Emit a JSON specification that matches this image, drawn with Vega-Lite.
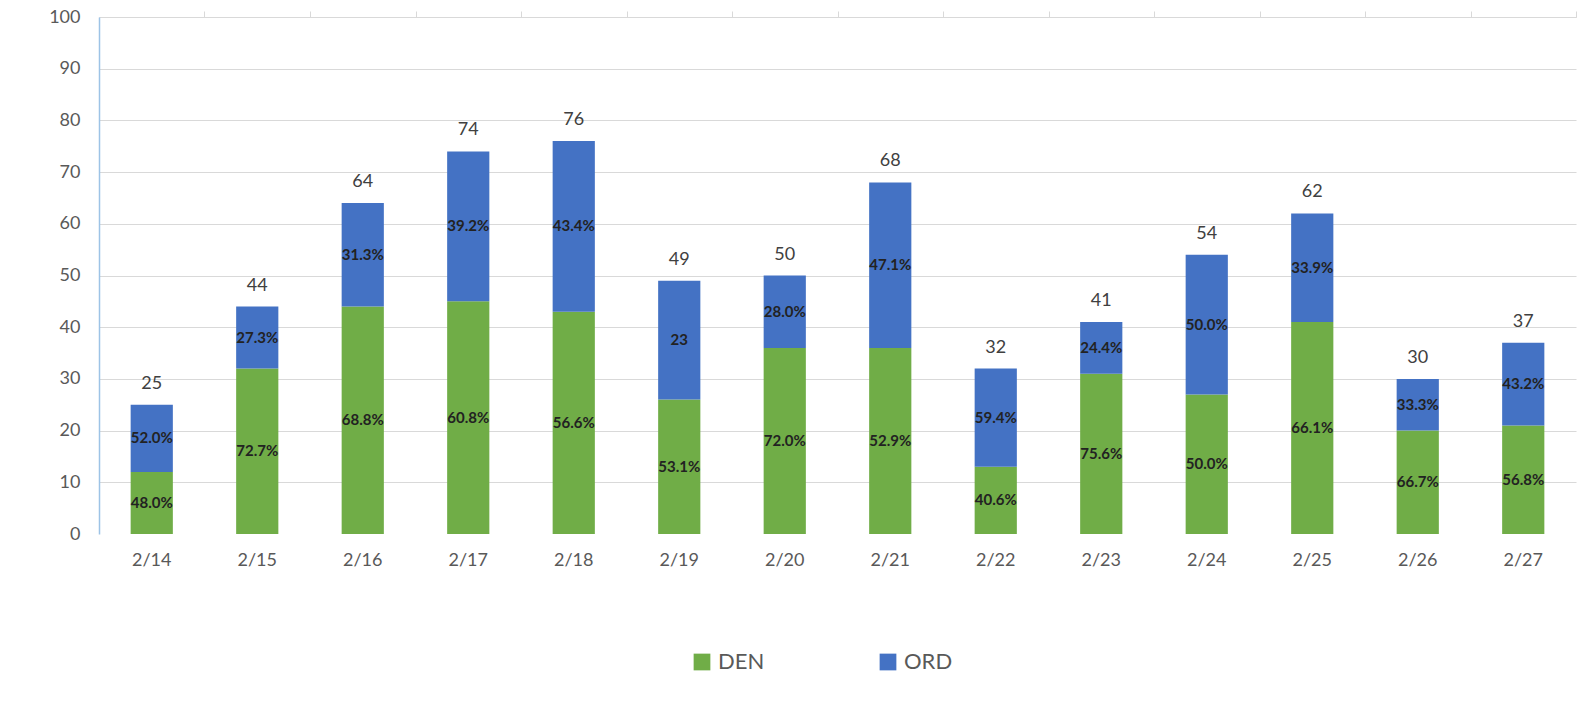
{
  "$schema": "https://vega.github.io/schema/vega-lite/v6.json",
  "width": 1477,
  "height": 517,
  "autosize": {"type": "none"},
  "padding": {"left": 99, "top": 17, "right": 3, "bottom": 187},
  "background": "white",
  "config": {"font": "Lato", "view": {"stroke": null}},
  "data": {
    "values": [
      {"date": "2/14", "carrier": "DEN", "count": 12, "label": "48.0%"},
      {"date": "2/14", "carrier": "ORD", "count": 13, "label": "52.0%"},
      {"date": "2/15", "carrier": "DEN", "count": 32, "label": "72.7%"},
      {"date": "2/15", "carrier": "ORD", "count": 12, "label": "27.3%"},
      {"date": "2/16", "carrier": "DEN", "count": 44, "label": "68.8%"},
      {"date": "2/16", "carrier": "ORD", "count": 20, "label": "31.3%"},
      {"date": "2/17", "carrier": "DEN", "count": 45, "label": "60.8%"},
      {"date": "2/17", "carrier": "ORD", "count": 29, "label": "39.2%"},
      {"date": "2/18", "carrier": "DEN", "count": 43, "label": "56.6%"},
      {"date": "2/18", "carrier": "ORD", "count": 33, "label": "43.4%"},
      {"date": "2/19", "carrier": "DEN", "count": 26, "label": "53.1%"},
      {"date": "2/19", "carrier": "ORD", "count": 23, "label": "23"},
      {"date": "2/20", "carrier": "DEN", "count": 36, "label": "72.0%"},
      {"date": "2/20", "carrier": "ORD", "count": 14, "label": "28.0%"},
      {"date": "2/21", "carrier": "DEN", "count": 36, "label": "52.9%"},
      {"date": "2/21", "carrier": "ORD", "count": 32, "label": "47.1%"},
      {"date": "2/22", "carrier": "DEN", "count": 13, "label": "40.6%"},
      {"date": "2/22", "carrier": "ORD", "count": 19, "label": "59.4%"},
      {"date": "2/23", "carrier": "DEN", "count": 31, "label": "75.6%"},
      {"date": "2/23", "carrier": "ORD", "count": 10, "label": "24.4%"},
      {"date": "2/24", "carrier": "DEN", "count": 27, "label": "50.0%"},
      {"date": "2/24", "carrier": "ORD", "count": 27, "label": "50.0%"},
      {"date": "2/25", "carrier": "DEN", "count": 41, "label": "66.1%"},
      {"date": "2/25", "carrier": "ORD", "count": 21, "label": "33.9%"},
      {"date": "2/26", "carrier": "DEN", "count": 20, "label": "66.7%"},
      {"date": "2/26", "carrier": "ORD", "count": 10, "label": "33.3%"},
      {"date": "2/27", "carrier": "DEN", "count": 21, "label": "56.8%"},
      {"date": "2/27", "carrier": "ORD", "count": 16, "label": "43.2%"}
    ]
  },
  "resolve": {"axis": {"x": "independent"}},
  "layer": [
    {
      "mark": {"type": "bar"},
      "encoding": {
        "x": {
          "field": "date", "type": "ordinal", "sort": null,
          "scale": {"paddingInner": 0.6, "paddingOuter": 0.3},
          "axis": {"orient": "bottom", "title": null, "labelAngle": 0, "labelFontSize": 18, "labelColor": "#595959", "labelPadding": 17, "domain": false, "ticks": false}
        },
        "y": {
          "field": "count", "type": "quantitative", "aggregate": "sum", "stack": "zero",
          "scale": {"domain": [0, 100], "nice": false},
          "axis": {"title": null, "values": [0, 10, 20, 30, 40, 50, 60, 70, 80, 90, 100], "labelFontSize": 18, "labelColor": "#595959", "labelPadding": 19, "ticks": false, "domainColor": "#9dc3e6", "domainWidth": 1.5, "gridColor": "#d9d9d9", "gridWidth": 1.2, "gridOpacity": {"condition": {"test": "datum.value === 0", "value": 0}, "value": 1}}
        },
        "color": {
          "field": "carrier", "type": "nominal",
          "scale": {"domain": ["DEN", "ORD"], "range": ["#70AD47", "#4472C4"]},
          "legend": {"orient": "none", "direction": "horizontal", "legendX": 592, "legendY": 634, "title": null, "symbolType": "square", "symbolSize": 280, "symbolStrokeWidth": 0, "labelFontSize": 22, "labelColor": "#595959", "labelOffset": 5, "columnPadding": 112}
        },
        "order": {"field": "carrier", "type": "nominal", "sort": "ascending"}
      }
    },
    {
      "mark": {"type": "text", "fontWeight": "bold", "fontSize": 15, "color": "#222222", "baseline": "middle"},
      "encoding": {
        "x": {"field": "date", "type": "ordinal", "sort": null, "axis": null},
        "y": {"field": "count", "type": "quantitative", "stack": "zero", "bandPosition": 0.5},
        "detail": {"field": "carrier", "type": "nominal"},
        "order": {"field": "carrier", "type": "nominal", "sort": "ascending"},
        "text": {"field": "label", "type": "nominal"}
      }
    },
    {
      "mark": {"type": "text", "fontSize": 18, "color": "#404040", "baseline": "middle", "dy": -21},
      "encoding": {
        "x": {"field": "date", "type": "ordinal", "sort": null,
          "axis": {"orient": "top", "title": null, "labels": false, "domain": true, "domainColor": "#d9d9d9", "ticks": true, "tickOffset": 52.75, "tickSize": 6, "tickColor": "#d9d9d9"}
        },
        "y": {"field": "count", "type": "quantitative", "aggregate": "sum"},
        "text": {"field": "count", "type": "quantitative", "aggregate": "sum"}
      }
    }
  ]
}
